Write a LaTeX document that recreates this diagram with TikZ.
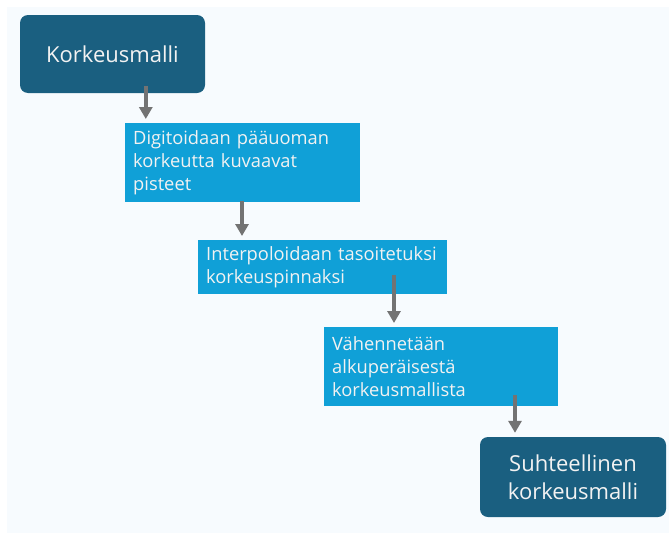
\documentclass[tikz,border=0pt]{standalone}
\usepackage{fontspec}
\setmainfont{Open Sans}
\usetikzlibrary{arrows.meta}
\definecolor{tausta}{HTML}{F7FBFE}
\definecolor{tumma}{HTML}{1A5F80}
\definecolor{vaalea}{HTML}{10A0D7}
\definecolor{nuoli}{HTML}{737373}
\definecolor{teksti}{HTML}{F2F2F2}
\tikzset{
  paa/.style = {shape=rectangle, rounded corners=8pt, fill=tumma, text=teksti, align=center, inner sep=0pt, font=\fontsize{22}{28}\selectfont},
  vaihe/.style = {shape=rectangle, fill=vaalea, text=teksti, align=left, inner xsep=8pt, inner ysep=0pt, anchor=north west, font=\fontsize{18.3}{23}\selectfont},
  flow/.style = {draw=nuoli, line width=3.5pt, -{Triangle[length=12pt,width=13pt]}, shorten >=4pt}
}
\begin{document}
\begin{tikzpicture}[x=1pt, y=-1pt]
  \useasboundingbox (0,0) rectangle (669,533);
  \fill[tausta] (7,7) rectangle (669,533);
  % paalaatikot
  \node[paa, minimum width=185pt, minimum height=78pt] (malli) at (112.5,54) {Korkeusmalli};
  \node[paa, minimum width=186pt, minimum height=80pt] (suht) at (573,477) {Suhteellinen\\korkeusmalli};
  % vaiheet
  \node[vaihe, text width=219pt, minimum height=79pt] (digit) at (125,123) {Digitoidaan pääuoman\\korkeutta kuvaavat\\pisteet};
  \node[vaihe, text width=233pt, minimum height=54pt] (interp) at (198,240) {Interpoloidaan tasoitetuksi\\korkeuspinnaksi};
  \node[vaihe, text width=218pt, minimum height=79pt] (vahenn) at (324,327) {Vähennetään\\alkuperäisestä\\korkeusmallista};
  % nuolet
  \coordinate (s1) at ([xshift=126pt, yshift=7pt]malli.south west);
  \coordinate (s2) at ([xshift=117pt, yshift=1pt]digit.south west);
  \coordinate (s3) at ([xshift=196pt, yshift=19pt]interp.south west);
  \coordinate (s4) at ([xshift=191pt, yshift=11pt]vahenn.south west);
  \draw[flow] (s1) -- (s1 |- digit.north);
  \draw[flow] (s2) -- (s2 |- interp.north);
  \draw[flow] (s3) -- (s3 |- vahenn.north);
  \draw[flow] (s4) -- (s4 |- suht.north);
\end{tikzpicture}
\end{document}
